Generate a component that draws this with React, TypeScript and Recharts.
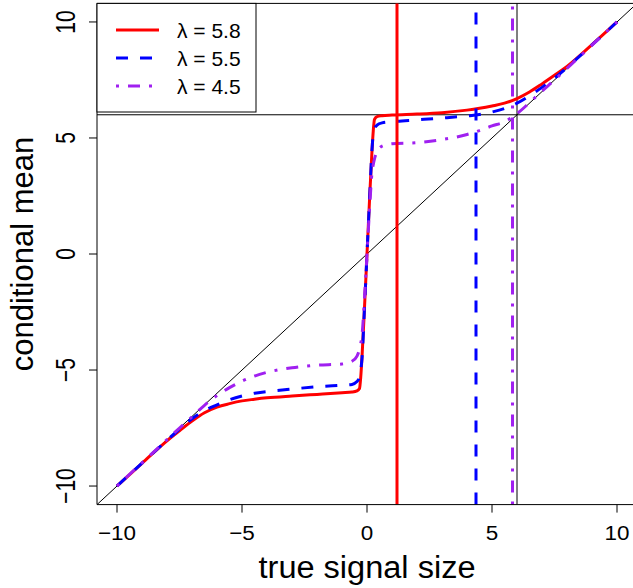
import React from 'react';
import { LineChart, Line, XAxis, YAxis, ReferenceLine } from 'recharts';

// true signal size (x) and conditional means for three lambda values
const signal = [-10, -9, -8, -7.5, -7, -6.5, -6, -5.5, -5, -4.5, -4, -3, -2, -1, -0.6, -0.4, -0.3, -0.25, -0.2, -0.1, 0, 0.1, 0.2, 0.25, 0.3, 0.4, 0.6, 1, 2, 3, 4, 4.5, 5, 5.5, 6, 6.5, 7, 7.5, 8, 9, 10];
const meanL58 = [-10, -9.02, -8.05, -7.62, -7.2, -6.84, -6.6, -6.45, -6.33, -6.26, -6.2, -6.12, -6.05, -5.98, -5.95, -5.9, -5.8, -5.3, -4.45, -2.3, 0, 2.3, 4.45, 5.3, 5.8, 5.92, 5.96, 5.99, 6.03, 6.09, 6.2, 6.28, 6.38, 6.5, 6.7, 6.98, 7.33, 7.7, 8.08, 9.02, 10];
const meanL55 = [-10, -9.01, -8.03, -7.55, -7.1, -6.75, -6.5, -6.28, -6.12, -6.0, -5.93, -5.82, -5.72, -5.65, -5.62, -5.5, -5.3, -5.0, -4.5, -2.3, 0, 2.3, 4.5, 5.2, 5.4, 5.55, 5.65, 5.7, 5.78, 5.86, 5.95, 6.01, 6.12, 6.27, 6.5, 6.82, 7.18, 7.58, 8.04, 9.01, 10];
const meanL45 = [-10, -9.0, -8.0, -7.5, -7.02, -6.52, -6.1, -5.76, -5.48, -5.26, -5.1, -4.9, -4.79, -4.74, -4.62, -4.4, -4.1, -3.85, -3.5, -1.9, 0, 1.9, 3.5, 3.85, 4.1, 4.4, 4.65, 4.75, 4.8, 4.93, 5.15, 5.32, 5.52, 5.7, 6.05, 6.52, 7.02, 7.5, 8.0, 9.0, 10];

const lambdaLabels = ['5.8', '5.5', '4.5'];
const cutoffs = [1.2, 4.36, 5.82];
const threshold = 6;
const xTicks = [-10, -5, 0, 5, 10];
const yTicks = [-10, -5, 0, 5, 10];
const axisRange: [number, number] = [-10.8, 10.8];

const colors = ['#FF0000', '#0000FF', '#A020F0'];
const dashes = [undefined, '12 12', '3 9 12 9'];
const keys = ['m58', 'm55', 'm45'];

const data = signal.map((x, i) => ({ x, m58: meanL58[i], m55: meanL55[i], m45: meanL45[i] }));

const FONT = '"Liberation Sans", Arial, Helvetica, sans-serif';
const fmt = (v: number) => (v < 0 ? '\u2212' + Math.abs(v) : String(v));

const XTick = (props: any) => {
  const { x, payload } = props;
  return (
    <text transform={`translate(${x} 540) scale(1.07 1)`} x={0} y={0} textAnchor="middle" fontSize={21} fontFamily={FONT} fill="#000">
      {fmt(payload.value)}
    </text>
  );
};

const YTick = (props: any) => {
  const { y, payload } = props;
  const bx = 75;
  return (
    <text transform={`translate(${bx} ${y}) rotate(-90) scale(1 1.3)`} x={0} y={0} textAnchor="middle" fontSize={21} fontFamily={FONT} fill="#000">
      {fmt(payload.value)}
    </text>
  );
};

export default function App() {
  const rowY = [30, 58, 86];
  return (
    <div style={{ position: 'absolute', left: 0, top: 0, width: 633, height: 588, overflow: 'hidden', background: '#fff' }}>
      <LineChart width={640} height={588} data={data} margin={{ top: 3.4, right: 3, bottom: 43.4, left: 37 }}>
        <XAxis
          dataKey="x"
          type="number"
          domain={axisRange}
          ticks={xTicks}
          allowDataOverflow
          height={40}
          tickSize={8}
          stroke="#000"
          tickLine={{ stroke: '#000' }}
          axisLine={{ stroke: '#000' }}
          tick={<XTick />}
          interval={0}
        />
        <YAxis
          type="number"
          domain={axisRange}
          ticks={yTicks}
          allowDataOverflow
          width={60}
          tickSize={8}
          stroke="#000"
          tickLine={{ stroke: '#000' }}
          axisLine={{ stroke: '#000' }}
          tick={<YTick />}
          interval={0}
        />
        <ReferenceLine y={axisRange[1]} stroke="#000" strokeWidth={1} />
        <ReferenceLine x={axisRange[1]} stroke="#000" strokeWidth={1} />
        <ReferenceLine
          segment={[{ x: axisRange[0], y: axisRange[0] }, { x: axisRange[1], y: axisRange[1] }]}
          stroke="#000"
          strokeWidth={1}
        />
        <ReferenceLine y={threshold} stroke="#000" strokeWidth={1} />
        <ReferenceLine x={threshold} stroke="#000" strokeWidth={1} />
        {keys.map((k, i) => (
          <Line
            key={k}
            dataKey={k}
            type="monotone"
            stroke={colors[i]}
            strokeWidth={3}
            strokeDasharray={dashes[i]}
            dot={false}
            activeDot={false}
            isAnimationActive={false}
          />
        ))}
        {cutoffs.map((c, i) => (
          <ReferenceLine key={'c' + i} x={c} stroke={colors[i]} strokeWidth={3} strokeDasharray={dashes[i]} />
        ))}
      </LineChart>
      <svg width={633} height={588} style={{ position: 'absolute', left: 0, top: 0, pointerEvents: 'none' }}>
        <rect x={97} y={3.4} width={159} height={108.6} fill="#fff" stroke="#000" strokeWidth={1} />
        {lambdaLabels.map((l, i) => (
          <g key={l}>
            <line x1={116} x2={159} y1={rowY[i]} y2={rowY[i]} stroke={colors[i]} strokeWidth={3} strokeDasharray={dashes[i]} />
            <text x={177} y={rowY[i] + 7.5} fontSize={21} fontFamily={FONT} fill="#000">
              {'\u03bb = ' + l}
            </text>
          </g>
        ))}
        <text transform="translate(367 578) scale(1.05 1)" x={0} y={0} textAnchor="middle" fontSize={31} fontFamily={FONT} fill="#000">
          true signal size
        </text>
        <text x={33} y={254} transform="rotate(-90 33 254)" textAnchor="middle" fontSize={31} fontFamily={FONT} fill="#000">
          conditional mean
        </text>
      </svg>
    </div>
  );
}
